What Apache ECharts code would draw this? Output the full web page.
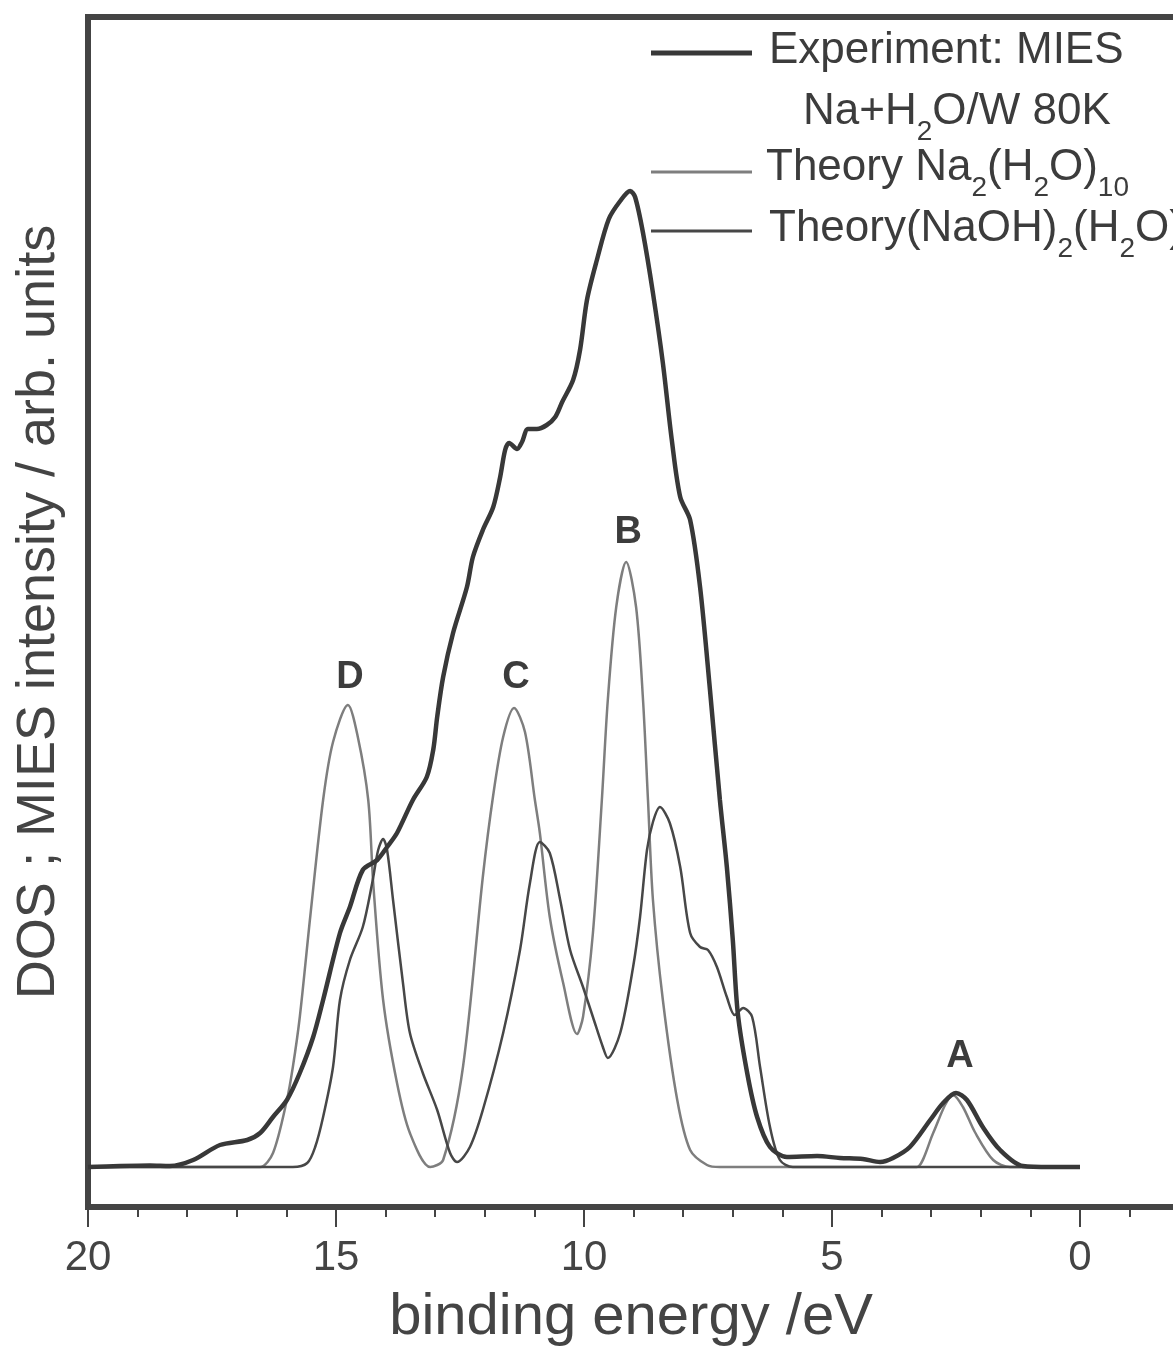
<!DOCTYPE html>
<html>
<head>
<meta charset="utf-8">
<script src="https://cdn.jsdelivr.net/npm/echarts@6/dist/echarts.min.js"></script>
<style>
  html, body { margin: 0; padding: 0; background: #fff; overflow: hidden; }
  /* the plot frame runs past the right edge of the picture, as in the figure */
  #chart { width: 1334px; height: 1363px; }
</style>
</head>
<body>
<div id="chart"></div>
<script>
// binding energy (eV), intensity (arb. units)
const experimentData = [
  [20.0, 0.0], [19.35, 0.1], [18.75, 0.15], [18.35, 0.1], [17.88, 0.7], [17.34, 2.2],
  [16.79, 2.7], [16.53, 3.4], [16.27, 5.0], [15.99, 6.7], [15.73, 9.4], [15.46, 13.0],
  [15.26, 16.7], [14.92, 23.4], [14.72, 26.0], [14.46, 29.7], [14.17, 30.7], [13.97, 32.0],
  [13.77, 33.4], [13.45, 36.7], [13.17, 39.0], [13.04, 41.7], [12.96, 45.0], [12.84, 49.0],
  [12.64, 53.4], [12.36, 58.0], [12.24, 61.0], [12.04, 63.7], [11.83, 66.0], [11.69, 69.0],
  [11.59, 71.7], [11.51, 72.4], [11.35, 71.8], [11.25, 72.5], [11.13, 73.8], [10.95, 73.8],
  [10.75, 74.2], [10.58, 75.0], [10.44, 76.5], [10.22, 78.7], [10.08, 81.7], [9.94, 86.7],
  [9.74, 90.7], [9.5, 94.8], [9.27, 96.6], [9.07, 97.6], [8.97, 97.0], [8.81, 93.4],
  [8.61, 87.4], [8.41, 80.4], [8.23, 72.7], [8.06, 67.0], [7.86, 64.7], [7.66, 58.0],
  [7.46, 47.7], [7.26, 36.7], [7.12, 30.0], [7.0, 22.7], [6.9, 15.4], [6.71, 9.4],
  [6.51, 5.0], [6.25, 2.0], [5.91, 1.0], [5.30, 1.1], [4.84, 0.9], [4.38, 0.8],
  [4.03, 0.5], [3.77, 0.9], [3.43, 2.0], [3.02, 4.7], [2.76, 6.4], [2.5, 7.4],
  [2.28, 6.7], [1.96, 4.0], [1.61, 1.7], [1.15, 0.1], [0.6, 0.0], [0.0, 0.0]
];

const theoryNa2Data = [
  [20.0, 0], [16.9, 0], [16.53, 0], [16.27, 1.4], [15.99, 6.7], [15.87, 10.0],
  [15.73, 15.0], [15.52, 25.0], [15.26, 36.7], [15.06, 42.5], [14.76, 46.2], [14.56, 43.0],
  [14.35, 36.7], [14.25, 28.4], [14.05, 16.7], [13.77, 8.4], [13.51, 3.4], [13.1, 0.0],
  [12.84, 0.7], [12.44, 10.0], [12.04, 29.0], [11.83, 37.2], [11.63, 43.0], [11.41, 45.9],
  [11.19, 43.5], [10.99, 36.7], [10.89, 33.4], [10.69, 25.0], [10.42, 18.4], [10.14, 13.3],
  [10.02, 15.0], [9.82, 23.4], [9.64, 36.7], [9.52, 46.7], [9.35, 56.0], [9.15, 60.5],
  [8.95, 56.0], [8.81, 46.7], [8.71, 36.7], [8.61, 26.7], [8.41, 16.7], [8.12, 6.7],
  [7.86, 1.7], [7.52, 0.2], [7.26, 0], [3.43, 0], [3.29, 0], [2.96, 3.4],
  [2.72, 6.2], [2.56, 7.2], [2.36, 6.0], [2.12, 3.5], [1.75, 0.7], [1.41, 0], [0.0, 0]
];

const theoryNaOHData = [
  [20.0, 0], [16.3, 0], [15.87, 0], [15.58, 0.4], [15.42, 2.0], [15.26, 5.0],
  [15.06, 10.0], [14.92, 16.7], [14.72, 20.7], [14.46, 24.0], [14.27, 28.4], [14.15, 31.7],
  [14.05, 32.8], [13.97, 31.7], [13.85, 26.7], [13.65, 18.4], [13.51, 13.4], [13.25, 9.4],
  [12.96, 5.7], [12.7, 1.4], [12.56, 0.5], [12.3, 2.0], [12.04, 5.7], [11.63, 13.4],
  [11.29, 21.7], [11.09, 28.4], [10.89, 32.5], [10.69, 31.4], [10.48, 26.7], [10.28, 21.7],
  [10.02, 18.0], [9.82, 15.0], [9.62, 12.0], [9.52, 10.9], [9.27, 13.4], [9.01, 20.0],
  [8.87, 25.0], [8.73, 31.7], [8.61, 34.5], [8.47, 36.0], [8.27, 34.4], [8.06, 30.0],
  [7.86, 23.4], [7.66, 22.0], [7.5, 21.7], [7.32, 20.0], [7.12, 17.0], [6.96, 15.2],
  [6.79, 15.9], [6.61, 15.0], [6.45, 10.0], [6.25, 4.0], [6.05, 0.7], [5.79, 0], [0.0, 0]
];

const peakNames = ['A', 'B', 'C', 'D'];
const peakCoords = [[2.42, 11.0], [9.11, 63.4], [11.37, 48.9], [14.72, 48.9]];

const seriesNames = ['Experiment: MIES Na+H2O/W 80K', 'Theory Na2(H2O)10', 'Theory(NaOH)2(H2O)8'];

const FONT = '"Liberation Sans", Arial, Helvetica, sans-serif';
const INK = '#444';

const chart = echarts.init(document.getElementById('chart'));

const rich = {
  m: { fontSize: 44, fontFamily: FONT, fill: '#3c3c3c', lineHeight: 44, verticalAlign: 'top' },
  s: { fontSize: 28, fontFamily: FONT, fill: '#3c3c3c', lineHeight: 28, verticalAlign: 'top', padding: [28, 0, 0, 0] }
};

function legendText(x, capMid, text) {
  return {
    type: 'text', x: x, y: capMid - 22, z: 100,
    style: { text: text, rich: rich, verticalAlign: 'top', align: 'left' }
  };
}

function legendLine(y, color, width) {
  return {
    type: 'line', z: 100,
    shape: { x1: 651, y1: y, x2: 752, y2: y },
    style: { stroke: color, lineWidth: width }
  };
}

const option = {
  animation: false,
  backgroundColor: '#fff',
  grid: {
    left: 88, top: 17, right: 6, bottom: 156,
    containLabel: false, outerBoundsMode: 'none',
    show: true, borderColor: INK, borderWidth: 6
  },
  xAxis: {
    type: 'value', min: -5, max: 20, interval: 5, inverse: true,
    name: 'binding energy /eV', nameLocation: 'middle', nameGap: 82,
    nameTextStyle: { fontSize: 58, color: INK, fontFamily: FONT, padding: [0, 154, 0, 0] },
    axisLine: { show: true, onZero: false, lineStyle: { color: INK, width: 6 } },
    axisTick: { show: true, length: 20, lineStyle: { color: INK, width: 2 } },
    minorTick: { show: true, splitNumber: 5, length: 10, lineStyle: { color: INK, width: 2 } },
    axisLabel: { fontSize: 42, color: INK, fontFamily: FONT, margin: 30 },
    splitLine: { show: false }
  },
  yAxis: {
    type: 'value', min: -4, max: 115,
    name: 'DOS ; MIES intensity / arb. units', nameLocation: 'middle', nameGap: 22,
    nameTextStyle: { fontSize: 54, color: INK, fontFamily: FONT },
    axisLine: { show: false }, axisTick: { show: false }, axisLabel: { show: false },
    splitLine: { show: false }
  },
  series: [
    {
      name: seriesNames[1], type: 'line', data: theoryNa2Data,
      showSymbol: false, smooth: 0.3, z: 2,
      lineStyle: { color: '#7e7e7e', width: 2.5 },
      markPoint: {
        symbol: 'circle', symbolSize: 0, silent: true,
        label: { show: true, position: 'inside', formatter: '{b}', fontSize: 38, fontWeight: 'bold', color: '#3c3c3c', fontFamily: FONT },
        data: peakNames.map((n, i) => ({ name: n, coord: peakCoords[i] }))
      }
    },
    {
      name: seriesNames[2], type: 'line', data: theoryNaOHData,
      showSymbol: false, smooth: 0.3, z: 3,
      lineStyle: { color: '#474747', width: 2.5 }
    },
    {
      name: seriesNames[0], type: 'line', data: experimentData,
      showSymbol: false, smooth: 0.3, z: 4,
      lineStyle: { color: '#383838', width: 4.5 }
    }
  ],
  graphic: [
    legendLine(53, '#383838', 5),
    legendLine(172, '#7e7e7e', 3),
    legendLine(231, '#474747', 3),
    legendText(769, 51, '{m|Experiment: MIES}'),
    legendText(803, 112, '{m|Na+H}{s|2}{m|O/W 80K}'),
    legendText(766, 168, '{m|Theory Na}{s|2}{m|(H}{s|2}{m|O)}{s|10}'),
    legendText(769, 229, '{m|Theory(NaOH)}{s|2}{m|(H}{s|2}{m|O)}{s|8}')
  ]
};

chart.setOption(option);
</script>
</body>
</html>
